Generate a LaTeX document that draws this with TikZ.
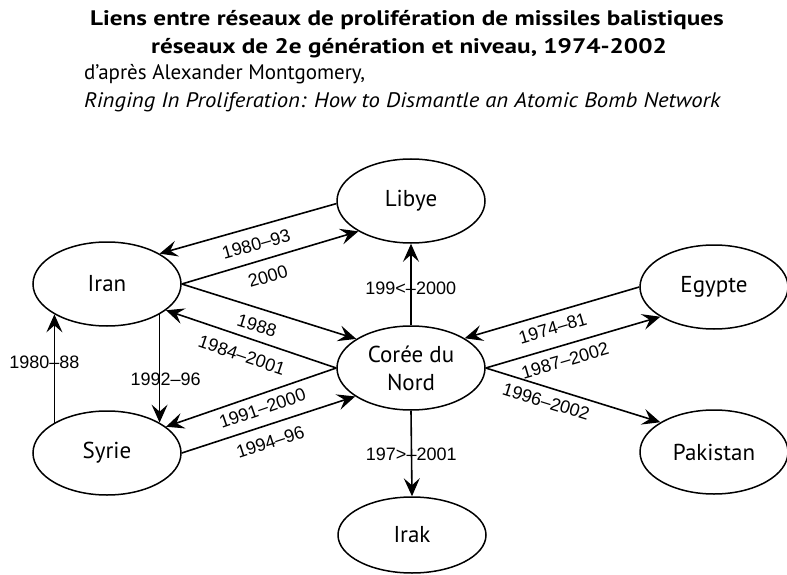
\documentclass[tikz,border=0pt]{standalone}
\usepackage{graphicx}
\usepackage{fontspec}
\setmainfont{PT Sans}
\newfontfamily\labelfont{Liberation Sans}
\usetikzlibrary{shapes.geometric,arrows.meta}

\begin{document}
\begin{tikzpicture}[x=1pt,y=-1pt,
  country/.style={ellipse, draw, line width=1.5pt, minimum width=148pt,
    minimum height=84pt, inner sep=0pt, align=center,
    font=\fontsize{23}{28}\selectfont},
  link/.style={line width=1.6pt, -{Stealth[length=18pt,width=16pt,inset=7pt]}},
  yr/.style={font=\labelfont\fontsize{18}{20}\selectfont, inner sep=1pt, sloped},
  vyr/.style={font=\labelfont\fontsize{18}{20}\selectfont, inner sep=0pt},
  titleline/.style={anchor=base, inner sep=0pt, font=\bfseries\fontsize{21}{25}\selectfont},
  srcline/.style={anchor=base west, inner sep=0pt, font=\fontsize{21}{25}\selectfont}
]
\useasboundingbox[fill=white] (0,0) rectangle (787,575);

% heading
\node[titleline] (t1) at (407,26) {\scalebox{1.2}[1]{Liens entre réseaux de prolifération de missiles balistiques}};
\node[titleline] (t2) at (409,54) {\scalebox{1.2}[1]{réseaux de 2e génération et niveau, 1974-2002}};
\node[srcline] (s1) at (84,80) {d'après Alexander Montgomery,};
\node[srcline] (s2) at (84,108) {\scalebox{1.083}[1]{\itshape Ringing In Proliferation: How to Dismantle an Atomic Bomb Network}};

% countries
\node[country] (libye)    at (411,201) {Libye};
\node[country] (iran)     at (107,284) {Iran};
\node[country] (coree)    at (411,368) {Corée du\\Nord};
\node[country] (egypte)   at (714,287) {Egypte};
\node[country] (syrie)    at (107,453) {Syrie};
\node[country] (pakistan) at (714,452) {Pakistan};
\node[country, minimum height=76pt] (irak) at (412,535) {Irak};

% links
\draw[link] (libye.182) -- node[yr, pos=0.48, below=9pt] {1980–93} (iran.30);
\draw[link] (iran.east) -- node[yr, pos=0.46, below=9pt] {2000} (libye.210);
\draw[link] (iran.east) -- node[yr, pos=0.46, below=9pt] {1988} (coree.152);
\draw[link] (coree.west) -- node[yr, pos=0.52, below=10pt] {1984–2001} (iran.-24);
\draw[link] (coree.west) -- node[yr, pos=0.46, below=6pt] {1991–2000} (syrie.24);
\draw[link] (syrie.east) -- node[yr, pos=0.48, below=9pt] {1994–96} (coree.207);
\draw[link] (egypte.west) -- node[yr, pos=0.52, below=7pt] {1974–81} (coree.29);
\draw[link] (coree.east) -- node[yr, pos=0.43, below=7pt] {1987–2002} (egypte.209);
\draw[link] (coree.east) -- node[yr, pos=0.37, below=6pt] {1996–2002} (pakistan.151);
\draw[link] (coree.north) -- node[vyr, pos=0.45] {\llap{199<}–\rlap{2000}} (libye.south);
\draw[link] (coree.south) -- node[vyr, pos=0.51] {\llap{197>}–\rlap{2001}} (irak.north);
\draw[link] (iran.-30) -- node[vyr, pos=0.6, xshift=1pt] {\llap{199}\rlap{2–96}} (syrie.30);
\draw[link] (syrie.150) -- node[vyr, pos=0.56] {\llap{1980}–\rlap{88}} (iran.210);
\end{tikzpicture}
\end{document}
